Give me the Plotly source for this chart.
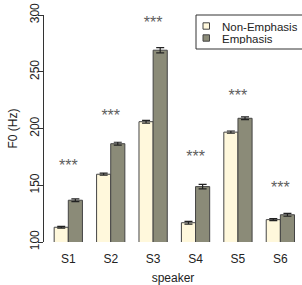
import plotly.graph_objects as go

speakers = ["S1", "S2", "S3", "S4", "S5", "S6"]
non_emphasis = [113, 159.7, 206, 117, 196.8, 119.7]
emphasis = [136.8, 186.6, 269, 148.8, 209, 124]
non_err = [0.8, 0.9, 1.2, 1.2, 1.0, 0.9]
emph_err = [1.2, 1.3, 2.3, 2.0, 1.2, 1.3]
star_y = [166, 210, 292, 174, 228, 147]
star_text = ["***"] * 6
series_names = ["Non-Emphasis", "Emphasis"]
series_colors = ["#FFF8DC", "#8B8B78"]

FONT = "Liberation Sans, Arial"

fig = go.Figure()
fig.add_trace(go.Bar(
    x=speakers, y=non_emphasis, name=series_names[0], showlegend=False,
    marker=dict(color=series_colors[0], line=dict(color="#444444", width=1)),
    error_y=dict(type="data", array=non_err, color="#222222", thickness=1.2, width=4),
))
fig.add_trace(go.Bar(
    x=speakers, y=emphasis, name=series_names[1], showlegend=False,
    marker=dict(color=series_colors[1], line=dict(color="#444444", width=1)),
    error_y=dict(type="data", array=emph_err, color="#222222", thickness=1.2, width=4),
))
fig.add_trace(go.Scatter(
    x=speakers, y=star_y, mode="text", text=star_text,
    textfont=dict(family=FONT, size=16, color="#5e5e5e"),
    showlegend=False, hoverinfo="skip",
))

# plot area in pixels: x 44..302, y 15..242
L, R, T, B = 44, 302, 15, 242
def px(x):
    return (x - L) / (R - L)
def py(y):
    return (B - y) / (B - T)

shapes = [dict(type="rect", xref="paper", yref="paper",
               x0=px(196), x1=px(304), y0=py(49), y1=py(15),
               line=dict(color="#333333", width=1), fillcolor="white", layer="above")]
annotations = []
rows = [26.0, 38.0]
for name, color, ry in zip(series_names, series_colors, rows):
    shapes.append(dict(type="rect", xref="paper", yref="paper",
                       x0=px(203), x1=px(209.5), y0=py(ry + 3.2), y1=py(ry - 3.2),
                       line=dict(color="#444444", width=1), fillcolor=color, layer="above"))
    annotations.append(dict(xref="paper", yref="paper", x=px(220.5), y=py(ry),
                            xanchor="left", yanchor="middle", showarrow=False,
                            text=name, font=dict(family=FONT, size=11.5, color="#222222"),
                            borderpad=0, height=11, valign="middle"))

fig.update_layout(
    width=302, height=285,
    margin=dict(l=L, r=302 - R, t=T, b=285 - B),
    paper_bgcolor="white", plot_bgcolor="white",
    barmode="group", bargap=1/3, bargroupgap=0,
    font=dict(family=FONT, size=12, color="#222222"),
    showlegend=False,
    shapes=shapes, annotations=annotations,
)
fig.update_xaxes(
    range=[-0.573, 5.51], showline=False, ticks="", showgrid=False,
    title=dict(text="speaker", font=dict(size=12), standoff=11),
    tickfont=dict(size=12), ticklabelstandoff=8,
)
fig.update_yaxes(
    range=[100, 300], tickvals=[100, 150, 200, 250, 300],
    showline=True, linecolor="#333333", linewidth=1,
    ticks="outside", ticklen=5, tickcolor="#333333",
    showgrid=False, zeroline=False, tickangle=-90,
    title=dict(text="F0 (Hz)", font=dict(size=12), standoff=8),
    tickfont=dict(size=12), ticklabelstandoff=-6,
)
fig.write_html("out.html")
